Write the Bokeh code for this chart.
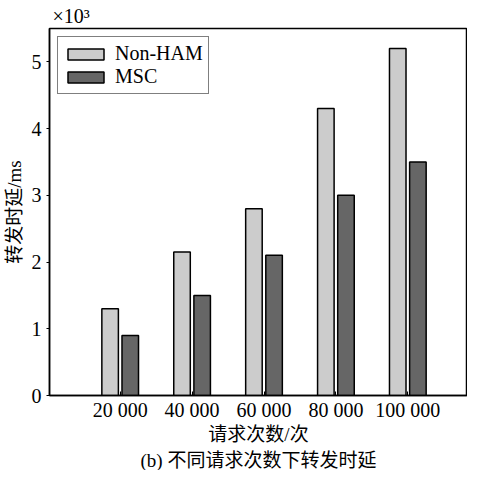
from bokeh.plotting import figure
from bokeh.models import Range1d, Title, Legend, LegendItem, FixedTicker, ColumnDataSource
from bokeh.embed import file_html
from bokeh.resources import INLINE
from bokeh.transform import dodge

categories = ["20 000", "40 000", "60 000", "80 000", "100 000"]
positions = [1, 2, 3, 4, 5]
non_ham = [1.3, 2.15, 2.8, 4.3, 5.2]
msc = [0.9, 1.5, 2.1, 3.0, 3.5]
y_ticks = [0, 1, 2, 3, 4, 5]

src = ColumnDataSource(dict(x=positions, non_ham=non_ham, msc=msc))

serif = "'Liberation Serif', 'Noto Sans CJK SC', serif"

p = figure(width=467, height=470, output_backend="svg", toolbar_location=None,
           x_range=Range1d(0.017, 5.83), y_range=Range1d(0, 5.5),
           min_border_left=44, min_border_right=0, min_border_top=28, min_border_bottom=0)

r1 = p.vbar(x=dodge("x", -0.14, range=p.x_range), top="non_ham", width=0.23, source=src,
            fill_color="#cccccc", line_color="black", line_width=1.5)
r2 = p.vbar(x=dodge("x", 0.14, range=p.x_range), top="msc", width=0.23, source=src,
            fill_color="#666666", line_color="black", line_width=1.5)

p.grid.visible = False
p.background_fill_color = "white"
p.outline_line_color = "black"
p.outline_line_width = 1.5

xa = p.xaxis[0]
ya = p.yaxis[0]

xa.ticker = FixedTicker(ticks=positions)
xa.major_label_overrides = {pos: lab for pos, lab in zip(positions, categories)}
xa.major_tick_in = 4
xa.major_tick_out = 0
xa.minor_tick_line_color = None
xa.axis_label = "请求次数/次"
xa.major_label_standoff = 3
xa.axis_label_standoff = 0

ya.ticker = FixedTicker(ticks=y_ticks)
ya.major_tick_in = 0
ya.major_tick_out = 3
ya.minor_tick_line_color = None
ya.axis_label = "转发时延/ms"
ya.major_label_standoff = 5
ya.axis_label_standoff = 4
ya.major_label_orientation = "horizontal"

for ax in (xa, ya):
    ax.axis_line_width = 1.5
    ax.axis_line_color = "black"
    ax.major_tick_line_color = "black"
    ax.major_label_text_font = serif
    ax.major_label_text_font_size = "20px"
    ax.major_label_text_color = "black"
    ax.axis_label_text_font = serif
    ax.axis_label_text_font_size = "19px"
    ax.axis_label_text_font_style = "normal"
    ax.axis_label_text_color = "black"

legend = Legend(items=[LegendItem(label="Non-HAM", renderers=[r1]),
                       LegendItem(label="MSC", renderers=[r2])],
                location="top_left")
legend.label_text_font = serif
legend.label_text_font_size = "20px"
legend.label_text_color = "black"
legend.glyph_width = 45
legend.glyph_height = 14
legend.label_height = 18
legend.spacing = 0
legend.padding = 5
legend.margin = 8
legend.border_line_color = "black"
legend.border_line_width = 1.5
legend.label_standoff = 7
p.add_layout(legend)

mult = Title(text="×10³", align="left", offset=3, text_font=serif,
             text_font_size="20px", text_font_style="normal", text_color="black",
             standoff=3)
p.add_layout(mult, "above")

cap = Title(text="(b) 不同请求次数下转发时延", align="center", text_font=serif,
            text_font_size="19px", text_font_style="normal", text_color="black",
            standoff=0)
p.add_layout(cap, "below")

open("out.html", "w").write(file_html(p, INLINE))
